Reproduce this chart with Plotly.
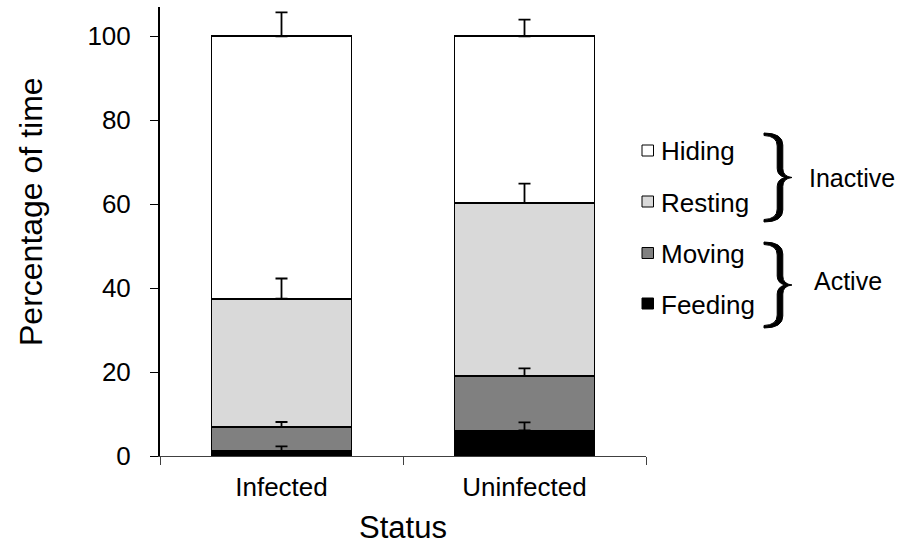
import numpy as np
import plotly.graph_objects as go

# ---- data ----
categories = ["Infected", "Uninfected"]
behaviours = ["Feeding", "Moving", "Resting", "Hiding"]
feeding = [1.2, 6.1]
moving = [5.7, 13.0]
resting = [30.6, 41.2]
hiding = [62.5, 39.7]
feeding_err = [1.1, 1.9]
moving_err = [1.2, 1.8]
resting_err = [4.8, 4.6]
hiding_err = [5.7, 4.0]
groups = ["Inactive", "Active"]
y_ticks = [0, 20, 40, 60, 80, 100]

values = [feeding, moving, resting, hiding]
errors = [feeding_err, moving_err, resting_err, hiding_err]
colors = ["#000000", "#808080", "#d9d9d9", "#ffffff"]

FONT = "Liberation Sans, Arial, sans-serif"
W, H = 904, 546
ML, MR, MT, MB = 160, 258, 7, 90
PW, PH = W - ML - MR, H - MT - MB


def px(x):
    return (x - ML) / PW


def py(y):
    return (H - MB - y) / PH


fig = go.Figure()
for name, vals, col in zip(behaviours, values, colors):
    fig.add_trace(go.Bar(
        name=name, x=categories, y=vals, width=0.576,
        marker=dict(color=col, line=dict(color="#000000", width=1.8)),
        showlegend=False, hoverinfo="x+y+name",
    ))

# error bars at the top of each stacked segment (drawn above all bars)
tops = np.cumsum(np.array(values), axis=0)
for name, top, errs in zip(behaviours, tops, errors):
    fig.add_trace(go.Scatter(
        name=name + " SE", x=categories, y=top, mode="markers",
        marker=dict(size=1, color="rgba(0,0,0,0)"),
        error_y=dict(type="data", array=errs, arrayminus=[0] * len(errs),
                     symmetric=False, color="#000000", thickness=1.8, width=6),
        showlegend=False, hoverinfo="skip",
    ))

shapes = []
annotations = []

# manual legend (top to bottom: Hiding, Resting, Moving, Feeding)
row_y = [150.5, 201.5, 253, 303.5]
for i, (name, col) in enumerate(zip(behaviours[::-1], colors[::-1])):
    yc = row_y[i]
    shapes.append(dict(type="rect", xref="paper", yref="paper",
                       x0=px(642), x1=px(653.5), y0=py(yc + 5.5), y1=py(yc - 5.5),
                       fillcolor=col, line=dict(color="#000000", width=1)))
    annotations.append(dict(text=name, xref="paper", yref="paper",
                            x=px(659), y=py(yc + 1), xanchor="left", yanchor="middle",
                            showarrow=False, font=dict(family=FONT, size=26, color="#000000")))


def brace(top, bot, x0=764, xs=780, xt=792, hw=2.8):
    mid = (top + bot) / 2
    P = lambda x, y: f"{px(x)},{py(y)}"
    d = [
        "M " + P(x0, top),
        "Q " + P(xs + hw, top) + " " + P(xs + hw, top + 12),
        "L " + P(xs + hw, mid - 9),
        "Q " + P(xs + hw, mid - 1) + " " + P(xt, mid),
        "Q " + P(xs + hw, mid + 1) + " " + P(xs + hw, mid + 9),
        "L " + P(xs + hw, bot - 12),
        "Q " + P(xs + hw, bot) + " " + P(x0, bot),
        "L " + P(x0, bot - 2.5),
        "Q " + P(xs - hw, bot - 3) + " " + P(xs - hw, bot - 13),
        "L " + P(xs - hw, mid + 9),
        "Q " + P(xs - hw, mid + 2) + " " + P(xs + 5, mid),
        "Q " + P(xs - hw, mid - 2) + " " + P(xs - hw, mid - 9),
        "L " + P(xs - hw, top + 13),
        "Q " + P(xs - hw, top + 3) + " " + P(x0, top + 2.5),
        "Z",
    ]
    return dict(type="path", xref="paper", yref="paper", path=" ".join(d),
                fillcolor="#000000", line=dict(color="#000000", width=1))


shapes.append(brace(133, 222))
shapes.append(brace(242, 328))
annotations.append(dict(text=groups[0], xref="paper", yref="paper", x=px(852), y=py(178),
                        xanchor="center", yanchor="middle", showarrow=False,
                        font=dict(family=FONT, size=25, color="#000000")))
annotations.append(dict(text=groups[1], xref="paper", yref="paper", x=px(848), y=py(281),
                        xanchor="center", yanchor="middle", showarrow=False,
                        font=dict(family=FONT, size=25, color="#000000")))

# y-axis title (placed as in the reference)
annotations.append(dict(text="Percentage of time", xref="paper", yref="paper",
                        x=px(31), y=py(212), xanchor="center", yanchor="middle",
                        textangle=-90, showarrow=False,
                        font=dict(family=FONT, size=32, color="#000000")))

fig.update_layout(
    width=W, height=H,
    margin=dict(l=ML, r=MR, t=MT, b=MB, pad=0),
    barmode="stack",
    plot_bgcolor="#ffffff", paper_bgcolor="#ffffff",
    font=dict(family=FONT, size=26, color="#000000"),
    shapes=shapes, annotations=annotations,
    showlegend=False,
)
fig.update_xaxes(
    range=[-0.5, 1.5], showline=True, linecolor="#404040", linewidth=1.3,
    ticks="outside", tickson="boundaries", ticklen=8, tickcolor="#404040", tickwidth=1.3,
    showgrid=False, zeroline=False, ticklabelstandoff=8,
    tickfont=dict(family=FONT, size=26, color="#000000"),
    title=dict(text="Status", font=dict(family=FONT, size=31, color="#000000"), standoff=14),
)
fig.update_yaxes(
    range=[0, 107], tickvals=y_ticks,
    showline=True, linecolor="#000000", linewidth=2,
    ticks="outside", ticklen=8, tickcolor="#000000", tickwidth=1.3,
    showgrid=False, zeroline=False, ticklabelstandoff=14,
    tickfont=dict(family=FONT, size=26, color="#000000"),
)

fig.write_html("out.html")
